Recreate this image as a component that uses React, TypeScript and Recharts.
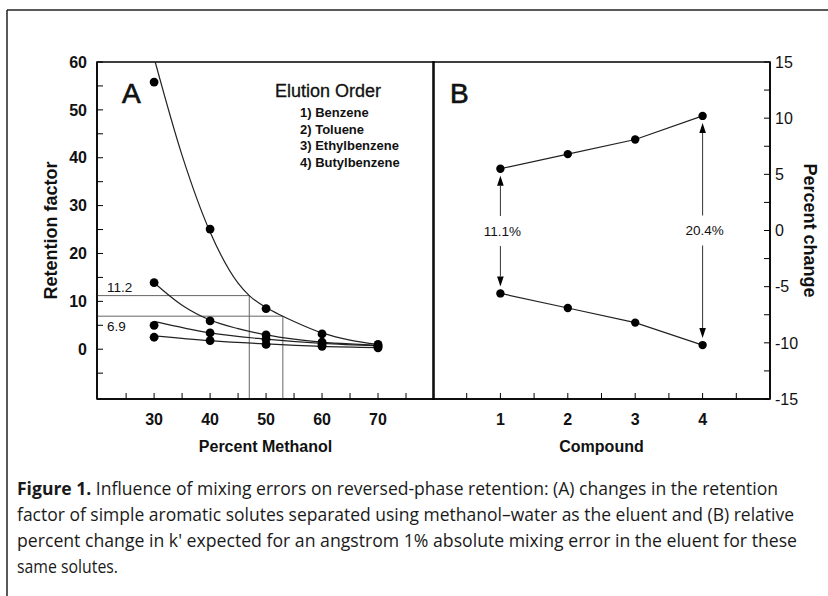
import React from 'react';
import { ComposedChart, Line, Scatter, XAxis, YAxis, ReferenceLine, ReferenceArea } from 'recharts';

const FONT = "'Liberation Sans', Arial, Helvetica, sans-serif";
const CAPTION_FONT = "'Liberation Sans Narrow', 'Open Sans', 'Noto Sans', sans-serif";

// ---- panel A: retention factor vs % methanol ----
const methanol = [30, 40, 50, 60, 70];
const kBenzene = [2.5, 1.8, 1.0, 0.6, 0.3];
const kToluene = [5.0, 3.4, 2.1, 1.0, 0.5];
const kEthyl = [13.9, 5.9, 3.0, 1.5, 0.7];
const kButyl = [55.8, 25.1, 8.5, 3.2, 1.0];

// fitted curves as they are drawn in the figure
const fitButylX = [30.2, 35, 40, 45, 47, 50, 53, 55, 60, 65, 70];
const fitButylK = [60, 40.5, 24.5, 13.8, 11.2, 8.7, 6.9, 5.8, 3.4, 1.9, 1.0];
const fitEthylX = [30, 35, 40, 45, 50, 55, 60, 65, 70];
const fitEthylK = [13.9, 9.2, 6.1, 4.3, 3.0, 2.1, 1.5, 1.1, 0.8];
const fitTolueneX = [30, 40, 50, 60, 70];
const fitTolueneK = [5.8, 3.4, 2.1, 1.2, 0.7];
const fitBenzeneX = [30, 40, 50, 60, 70];
const fitBenzeneK = [2.8, 1.8, 1.1, 0.6, 0.35];

const guideK = [11.2, 6.9];
const guideMethanol = [47, 53];

const xDomainA = [19.8, 80];
const yDomainA = [-10.4, 60];
const xTicksA = [25, 30, 35, 40, 45, 50, 55, 60, 65, 70, 75];
const xLabelsA = [30, 40, 50, 60, 70];
const yTicksA = [-5, 0, 5, 10, 15, 20, 25, 30, 35, 40, 45, 50, 55, 60];
const yLabelsA = [0, 10, 20, 30, 40, 50, 60];

const elutionOrder = ['1) Benzene', '2) Toluene', '3) Ethylbenzene', '4) Butylbenzene'];

// ---- panel B: percent change per compound ----
const compounds = [1, 2, 3, 4];
const changeUp = [5.5, 6.8, 8.1, 10.2];
const changeDown = [-5.6, -6.9, -8.2, -10.2];
const spreadCompounds = [1, 4];
const spreadLabels = ['11.1%', '20.4%'];

const xDomainB = [0, 5];
const yDomainB = [-15, 15];
const xTicksB = [0.5, 1, 1.5, 2, 2.5, 3, 3.5, 4, 4.5];
const xLabelsB = [1, 2, 3, 4];
const yTicksB = [-15, -12.5, -10, -7.5, -5, -2.5, 0, 2.5, 5, 7.5, 10, 12.5, 15];
const yLabelsB = [-15, -10, -5, 0, 5, 10, 15];

const captionLines = [
  'Influence of mixing errors on reversed-phase retention: (A) changes in the retention',
  'factor of simple aromatic solutes separated using methanol\u2013water as the eluent and (B) relative',
  "percent change in k' expected for an angstrom 1% absolute mixing error in the eluent for these",
  'same solutes.',
];
const captionWidths = [761, 777, 780, 101];

const pts = (xs: number[], ys: number[]) => xs.map((x, i) => ({ x, y: ys[i] }));
const only = (labels: number[]) => (v: number) => (labels.includes(v) ? String(v) : '');

const dot = (p: any) => <circle cx={p.cx} cy={p.cy} r={4.4} fill="#000" />;
const smallDot = (p: any) => <circle cx={p.cx} cy={p.cy} r={4.2} fill="#000" />;

const tickStyle = { fill: '#111', fontSize: 16, fontWeight: 'bold', fontFamily: FONT };
const rightTickStyle = { fill: '#111', fontSize: 16, fontFamily: FONT };
const axisLine = { stroke: '#000', strokeWidth: 1.5 };
const tickLine = { stroke: '#000', strokeWidth: 1 };

const GuideH = (text: string, below: boolean) => (p: any) => (
  <g>
    <line x1={p.x1} y1={p.y1} x2={p.x2} y2={p.y2} stroke="#666" strokeWidth={1} />
    <text x={p.x1 + 10} y={below ? p.y1 + 15 : p.y1 - 4} fontSize={13.5} fontFamily={FONT} fill="#111">
      {text}
    </text>
  </g>
);

const SpreadArrow = (text: string) => (p: any) => {
  const x = p.x1;
  const top = Math.min(p.y1, p.y2) + 7;
  const bot = Math.max(p.y1, p.y2) - 7;
  const mid = (top + bot) / 2;
  const head = 10;
  const half = 3.3;
  return (
    <g>
      <line x1={x} y1={top + head} x2={x} y2={mid - 15} stroke="#333" strokeWidth={1} />
      <line x1={x} y1={mid + 15} x2={x} y2={bot - head} stroke="#333" strokeWidth={1} />
      <polygon points={`${x},${top} ${x - half},${top + head} ${x + half},${top + head}`} fill="#000" />
      <polygon points={`${x},${bot} ${x - half},${bot - head} ${x + half},${bot - head}`} fill="#000" />
      <text x={x + 2} y={mid} textAnchor="middle" dominantBaseline="central" fontSize={13.5} fontFamily={FONT} fill="#111">
        {text}
      </text>
    </g>
  );
};

function PanelA() {
  const series = [
    { fit: pts(fitButylX, fitButylK), obs: pts(methanol, kButyl) },
    { fit: pts(fitEthylX, fitEthylK), obs: pts(methanol, kEthyl) },
    { fit: pts(fitTolueneX, fitTolueneK), obs: pts(methanol, kToluene) },
    { fit: pts(fitBenzeneX, fitBenzeneK), obs: pts(methanol, kBenzene) },
  ];
  return (
    <ComposedChart width={440} height={470} margin={{ top: 62, right: 6, bottom: 0, left: 0 }}>
      <XAxis
        dataKey="x"
        type="number"
        domain={xDomainA}
        ticks={xTicksA}
        interval={0}
        allowDataOverflow
        tickFormatter={only(xLabelsA)}
        tick={tickStyle}
        tickSize={-6}
        tickMargin={21}
        axisLine={axisLine}
        tickLine={tickLine}
        height={71}
        label={{ value: 'Percent Methanol', position: 'insideTop', offset: 42, fontSize: 16, fontWeight: 'bold', fill: '#111', fontFamily: FONT }}
      />
      <YAxis
        dataKey="y"
        type="number"
        domain={yDomainA}
        ticks={yTicksA}
        interval={0}
        allowDataOverflow
        tickFormatter={only(yLabelsA)}
        tick={tickStyle}
        tickSize={-6}
        tickMargin={16}
        axisLine={axisLine}
        tickLine={tickLine}
        width={97}
        label={{ value: 'Retention factor', angle: -90, position: 'insideLeft', offset: 51, fontSize: 18, fontWeight: 'bold', fill: '#111', fontFamily: FONT, style: { textAnchor: 'middle' } }}
      />
      <ReferenceArea x1={xDomainA[0]} x2={xDomainA[1]} y1={yDomainA[0]} y2={yDomainA[1]} fill="none" stroke="#000" strokeWidth={1.5} />
      {guideK.map((k, i) => (
        <ReferenceLine
          key={`h${i}`}
          segment={[{ x: xDomainA[0], y: k }, { x: guideMethanol[i], y: k }]}
          shape={GuideH(String(k), i === 1)}
        />
      ))}
      {guideK.map((k, i) => (
        <ReferenceLine
          key={`v${i}`}
          segment={[{ x: guideMethanol[i], y: k }, { x: guideMethanol[i], y: yDomainA[0] }]}
          stroke="#666"
          strokeWidth={1}
        />
      ))}
      {series.map((s, i) => (
        <Line key={`f${i}`} data={s.fit} dataKey="y" type="monotone" stroke="#222" strokeWidth={1.2} dot={false} isAnimationActive={false} />
      ))}
      {series.map((s, i) => (
        <Scatter key={`o${i}`} data={s.obs} shape={dot} isAnimationActive={false} />
      ))}
    </ComposedChart>
  );
}

function PanelB() {
  const up = pts(compounds, changeUp);
  const down = pts(compounds, changeDown);
  return (
    <ComposedChart width={408} height={470} margin={{ top: 62, right: 0, bottom: 0, left: 13 }}>
      <XAxis
        dataKey="x"
        type="number"
        domain={xDomainB}
        ticks={xTicksB}
        interval={0}
        tickFormatter={only(xLabelsB)}
        tick={tickStyle}
        tickSize={-6}
        tickMargin={21}
        axisLine={axisLine}
        tickLine={tickLine}
        height={71}
        label={{ value: 'Compound', position: 'insideTop', offset: 42, fontSize: 16, fontWeight: 'bold', fill: '#111', fontFamily: FONT }}
      />
      <YAxis
        orientation="right"
        dataKey="y"
        type="number"
        domain={yDomainB}
        ticks={yTicksB}
        interval={0}
        tickFormatter={only(yLabelsB)}
        tick={rightTickStyle}
        tickSize={-6}
        tickMargin={11}
        axisLine={axisLine}
        tickLine={tickLine}
        width={58}
        label={{ value: 'Percent change', angle: 90, position: 'insideRight', offset: 18, fontSize: 18, fontWeight: 'bold', fill: '#111', fontFamily: FONT, style: { textAnchor: 'middle' } }}
      />
      <ReferenceArea x1={xDomainB[0]} x2={xDomainB[1]} y1={yDomainB[0]} y2={yDomainB[1]} fill="none" stroke="#000" strokeWidth={1.5} />
      {spreadCompounds.map((c, i) => (
        <ReferenceLine
          key={`s${i}`}
          segment={[{ x: c, y: changeUp[c - 1] }, { x: c, y: changeDown[c - 1] }]}
          shape={SpreadArrow(spreadLabels[i])}
        />
      ))}
      <Line data={up} dataKey="y" type="linear" stroke="#222" strokeWidth={1.2} dot={false} isAnimationActive={false} />
      <Line data={down} dataKey="y" type="linear" stroke="#222" strokeWidth={1.2} dot={false} isAnimationActive={false} />
      <Scatter data={up} shape={smallDot} isAnimationActive={false} />
      <Scatter data={down} shape={smallDot} isAnimationActive={false} />
    </ComposedChart>
  );
}

export default function App() {
  return (
    <div style={{ position: 'absolute', left: 0, top: 0, width: 828, height: 596, background: '#fff', overflow: 'hidden' }}>
      <div style={{ position: 'absolute', left: 0, top: 0 }}>
        <PanelA />
      </div>
      <div style={{ position: 'absolute', left: 420, top: 0 }}>
        <PanelB />
      </div>
      <svg width={828} height={596} style={{ position: 'absolute', left: 0, top: 0, pointerEvents: 'none' }}>
        <line x1={7} y1={10} x2={828} y2={10} stroke="#222" strokeWidth={1.5} />
        <line x1={7} y1={10} x2={7} y2={596} stroke="#222" strokeWidth={1.5} />
        <text x={122} y={103} fontSize={28} fontFamily={FONT} fill="#111" stroke="#111" strokeWidth={0.7}>A</text>
        <text x={450} y={103} fontSize={28} fontFamily={FONT} fill="#111" stroke="#111" strokeWidth={0.7}>B</text>
        <text x={275} y={97} fontSize={18} fontFamily={FONT} fill="#111" stroke="#111" strokeWidth={0.3}>Elution Order</text>
        {elutionOrder.map((t, i) => (
          <text key={t} x={300} y={117 + i * 16.7} fontSize={13} fontWeight="bold" fontFamily={FONT} fill="#111">
            {t}
          </text>
        ))}
        {captionLines.map((t, i) => (
          <text
            key={i}
            x={17}
            y={495 + i * 26}
            fontSize={17.5}
            fontFamily={CAPTION_FONT}
            fill="#1a1a1a"
            textLength={captionWidths[i]}
            lengthAdjust="spacingAndGlyphs"
          >
            {i === 0 && <tspan fontWeight="bold">Figure 1. </tspan>}
            {t}
          </text>
        ))}
      </svg>
    </div>
  );
}
